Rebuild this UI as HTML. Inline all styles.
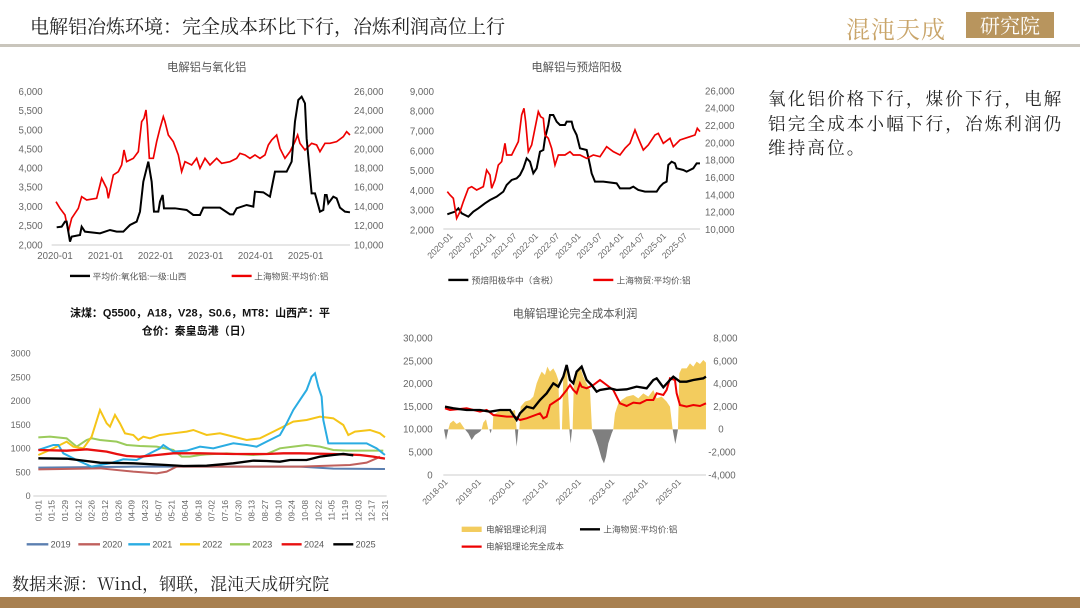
<!DOCTYPE html>
<html><head><meta charset="utf-8"><style>
body{margin:0;width:1080px;height:608px;background:#fff;overflow:hidden;position:relative;font-family:"Liberation Sans","Noto Sans CJK SC",sans-serif}
.t{position:absolute;left:30px;top:12px;font-size:19px;color:#222;font-family:"Noto Serif CJK SC","Noto Sans CJK SC",serif}
.side{position:absolute;left:768px;top:87px;width:306px;font-size:17.5px;letter-spacing:2.2px;line-height:24.5px;color:#222;font-family:"Noto Serif CJK SC","Noto Sans CJK SC",serif}
.src{position:absolute;left:12px;top:570px;font-size:17px;color:#222;font-family:"Noto Serif CJK SC","Noto Sans CJK SC",serif}
</style></head><body>
<div class="t">电解铝冶炼环境：完全成本环比下行，冶炼利润高位上行</div>
<div style="position:absolute;left:0;top:44px;width:1080px;height:3px;background:#c9c5bc"></div>
<div style="position:absolute;left:846px;top:10px;font-size:24px;color:#c9a56a;letter-spacing:1px;font-family:'Noto Serif CJK SC',serif">混沌天成</div>
<div style="position:absolute;left:966px;top:12px;width:88px;height:26px;background:#b8955e;color:#fff;font-size:20px;line-height:26px;text-align:center;font-family:'Noto Serif CJK SC',serif">研究院</div>
<div class="side">氧化铝价格下行，煤价下行，电解铝完全成本小幅下行，冶炼利润仍维持高位。</div>
<div class="src">数据来源：Wind，钢联，混沌天成研究院</div>
<div style="position:absolute;left:0;top:597px;width:1080px;height:11px;background:#a88050"></div>

<svg width="1080" height="608" style="position:absolute;left:0;top:0" font-family="Liberation Sans,Noto Sans CJK SC,sans-serif">
<!-- Chart 1 -->
<g transform="translate(0,55) scale(0.3333)" fill="none">
<text x="620" y="48" font-size="34" fill="#555" text-anchor="middle" stroke="none">电解铝与氧化铝</text>
<g font-size="29" fill="#666" stroke="none" text-anchor="end">
<text x="128" y="120">6,000</text><text x="128" y="177">5,500</text><text x="128" y="235">5,000</text><text x="128" y="292">4,500</text><text x="128" y="350">4,000</text><text x="128" y="407">3,500</text><text x="128" y="465">3,000</text><text x="128" y="522">2,500</text><text x="128" y="580">2,000</text>
</g>
<g font-size="29" fill="#666" stroke="none">
<text x="1062" y="120">26,000</text><text x="1062" y="177">24,000</text><text x="1062" y="235">22,000</text><text x="1062" y="292">20,000</text><text x="1062" y="350">18,000</text><text x="1062" y="407">16,000</text><text x="1062" y="465">14,000</text><text x="1062" y="522">12,000</text><text x="1062" y="580">10,000</text>
</g>
<line x1="155" y1="570" x2="1050" y2="570" stroke="#ccc" stroke-width="3"/>
<g font-size="29" fill="#666" stroke="none" text-anchor="middle">
<text x="165" y="612">2020-01</text><text x="317" y="612">2021-01</text><text x="467" y="612">2022-01</text><text x="617" y="612">2023-01</text><text x="767" y="612">2024-01</text><text x="917" y="612">2025-01</text>
</g>
<polyline stroke="#e00" stroke-width="5" points="168,440 180,460 195,480 205,530 215,490 235,460 245,425 260,435 290,430 305,370 320,400 325,430 340,360 355,350 365,330 372,285 380,320 400,310 415,290 425,200 432,190 438,165 442,210 448,310 460,310 470,260 480,220 490,185 495,200 505,240 520,260 535,300 545,350 555,320 575,330 590,310 600,340 615,310 630,330 650,310 665,325 690,320 710,310 720,295 735,300 750,310 765,300 780,310 795,300 805,270 815,255 830,240 840,280 855,310 870,290 885,260 893,240 900,265 915,285 925,275 935,265 950,270 960,290 975,265 990,265 1010,260 1030,245 1040,230 1050,240"/>
<polyline stroke="#000" stroke-width="6" points="170,517 185,515 195,500 200,500 210,560 215,545 240,540 245,515 255,530 300,535 330,525 350,530 370,530 390,510 410,500 420,470 430,380 445,320 455,380 462,470 475,470 480,440 488,420 492,460 525,460 560,465 580,480 600,480 610,458 660,458 690,478 700,478 710,460 740,450 760,455 765,410 790,412 810,425 825,350 860,350 875,320 885,200 895,135 905,125 915,145 920,250 930,360 935,415 945,415 960,470 970,465 975,420 980,420 985,445 1000,425 1010,430 1020,458 1035,470 1050,472"/>
<line x1="210" y1="663" x2="270" y2="663" stroke="#000" stroke-width="7"/>
<text x="278" y="673" font-size="26" fill="#555" stroke="none">平均价:氧化铝:一级:山西</text>
<line x1="695" y1="663" x2="755" y2="663" stroke="#e00" stroke-width="7"/>
<text x="763" y="673" font-size="26" fill="#555" stroke="none">上海物贸:平均价:铝</text>
</g>

<!-- Chart 2 -->
<g transform="translate(390,55) scale(0.3333)" fill="none">
<text x="560" y="48" font-size="34" fill="#555" text-anchor="middle" stroke="none">电解铝与预焙阳极</text>
<g font-size="29" fill="#666" stroke="none" text-anchor="end">
<text x="132" y="120">9,000</text><text x="132" y="179">8,000</text><text x="132" y="239">7,000</text><text x="132" y="298">6,000</text><text x="132" y="357">5,000</text><text x="132" y="417">4,000</text><text x="132" y="476">3,000</text><text x="132" y="535">2,000</text>
</g>
<g font-size="29" fill="#666" stroke="none">
<text x="945" y="118">26,000</text><text x="945" y="170">24,000</text><text x="945" y="222">22,000</text><text x="945" y="274">20,000</text><text x="945" y="326">18,000</text><text x="945" y="378">16,000</text><text x="945" y="430">14,000</text><text x="945" y="482">12,000</text><text x="945" y="534">10,000</text>
</g>
<line x1="160" y1="522" x2="930" y2="522" stroke="#ccc" stroke-width="3"/>
<g font-size="26" fill="#666" stroke="none" text-anchor="end">
<text transform="translate(190,545) rotate(-45)">2020-01</text><text transform="translate(254,545) rotate(-45)">2020-07</text><text transform="translate(318,545) rotate(-45)">2021-01</text><text transform="translate(382,545) rotate(-45)">2021-07</text><text transform="translate(446,545) rotate(-45)">2022-01</text><text transform="translate(510,545) rotate(-45)">2022-07</text><text transform="translate(574,545) rotate(-45)">2023-01</text><text transform="translate(638,545) rotate(-45)">2023-07</text><text transform="translate(702,545) rotate(-45)">2024-01</text><text transform="translate(766,545) rotate(-45)">2024-07</text><text transform="translate(830,545) rotate(-45)">2025-01</text><text transform="translate(894,545) rotate(-45)">2025-07</text>
</g>
<polyline stroke="#000" stroke-width="6" points="172,478 180,475 195,470 205,460 215,475 225,480 235,485 240,480 250,470 265,460 285,445 300,435 320,425 340,410 350,390 365,375 380,370 390,360 400,340 410,310 420,320 430,355 440,340 450,290 460,285 465,250 475,210 480,180 490,180 500,200 510,210 525,210 530,200 545,200 550,220 560,240 570,280 590,285 600,330 605,355 615,380 640,380 680,385 690,400 720,400 730,395 745,405 765,410 800,410 810,395 820,385 830,380 835,330 845,320 855,325 860,340 880,345 890,350 900,345 910,340 920,325 930,325"/>
<polyline stroke="#e00" stroke-width="5" points="172,410 180,420 190,430 200,490 210,470 220,440 235,400 245,395 260,405 280,395 290,345 300,360 305,400 315,375 325,330 335,320 345,265 350,300 365,300 385,260 395,180 402,160 407,200 415,290 425,270 435,220 445,170 452,185 460,190 465,240 475,250 485,280 495,330 505,300 525,300 540,290 550,300 570,300 590,310 610,300 630,305 650,275 670,290 690,300 705,280 720,265 735,225 745,250 760,285 775,270 795,240 805,235 820,265 840,250 850,275 870,255 900,245 915,240 922,220 930,230"/>
<line x1="175" y1="675" x2="235" y2="675" stroke="#000" stroke-width="7"/>
<text x="245" y="685" font-size="26" fill="#555" stroke="none">预焙阳极华中（含税）</text>
<line x1="610" y1="675" x2="670" y2="675" stroke="#e00" stroke-width="7"/>
<text x="680" y="685" font-size="26" fill="#555" stroke="none">上海物贸:平均价:铝</text>
</g>

<!-- Chart 3 -->
<g transform="translate(0,300) scale(0.3333)" fill="none">
<text x="600" y="50" font-size="33" font-weight="bold" fill="#111" text-anchor="middle" stroke="none">沫煤：Q5500，A18，V28，S0.6，MT8：山西产：平</text>
<text x="590" y="104" font-size="33" font-weight="bold" fill="#111" text-anchor="middle" stroke="none">仓价：秦皇岛港（日）</text>
<g font-size="27" fill="#666" stroke="none" text-anchor="end">
<text x="92" y="169">3000</text><text x="92" y="241">2500</text><text x="92" y="312">2000</text><text x="92" y="384">1500</text><text x="92" y="455">1000</text><text x="92" y="526">500</text><text x="92" y="597">0</text>
</g>
<line x1="100" y1="588" x2="1160" y2="588" stroke="#ccc" stroke-width="3"/>
<g font-size="25" fill="#666" stroke="none" text-anchor="end">
<text transform="translate(124,600) rotate(-90)">01-01</text><text transform="translate(164,600) rotate(-90)">01-15</text><text transform="translate(204,600) rotate(-90)">01-29</text><text transform="translate(244,600) rotate(-90)">02-12</text><text transform="translate(284,600) rotate(-90)">02-26</text><text transform="translate(324,600) rotate(-90)">03-12</text><text transform="translate(364,600) rotate(-90)">03-26</text><text transform="translate(404,600) rotate(-90)">04-09</text><text transform="translate(444,600) rotate(-90)">04-23</text><text transform="translate(484,600) rotate(-90)">05-07</text><text transform="translate(524,600) rotate(-90)">05-21</text><text transform="translate(564,600) rotate(-90)">06-04</text><text transform="translate(604,600) rotate(-90)">06-18</text><text transform="translate(644,600) rotate(-90)">07-02</text><text transform="translate(684,600) rotate(-90)">07-16</text><text transform="translate(724,600) rotate(-90)">07-30</text><text transform="translate(764,600) rotate(-90)">08-13</text><text transform="translate(804,600) rotate(-90)">08-27</text><text transform="translate(844,600) rotate(-90)">09-10</text><text transform="translate(884,600) rotate(-90)">09-24</text><text transform="translate(924,600) rotate(-90)">10-08</text><text transform="translate(964,600) rotate(-90)">10-22</text><text transform="translate(1004,600) rotate(-90)">11-05</text><text transform="translate(1044,600) rotate(-90)">11-19</text><text transform="translate(1084,600) rotate(-90)">12-03</text><text transform="translate(1124,600) rotate(-90)">12-17</text><text transform="translate(1164,600) rotate(-90)">12-31</text>
</g>
<polyline stroke="#5b7fb0" stroke-width="6" points="115,503 400,500 600,500 900,500 1000,506 1155,507"/>
<polyline stroke="#c0605d" stroke-width="6" points="115,508 300,505 400,515 470,520 500,515 530,500 600,500 900,500 1050,495 1100,488 1130,475 1140,470"/>
<polyline stroke="#9bcb5b" stroke-width="6" points="115,412 150,410 200,415 230,440 260,420 275,415 300,420 350,425 380,435 420,438 470,440 520,450 545,470 570,470 600,465 620,463 680,460 760,465 800,462 840,445 880,440 920,435 960,440 1000,450 1040,452 1100,452 1150,452"/>
<polyline stroke="#f5c518" stroke-width="6" points="115,465 150,450 200,425 220,440 250,445 275,410 300,330 320,370 330,380 345,345 360,370 375,400 400,405 415,420 430,410 450,415 480,405 520,400 560,395 580,390 620,405 660,400 700,410 740,420 780,415 830,390 880,365 920,360 960,350 1000,355 1030,375 1045,405 1065,395 1110,390 1140,400 1155,412"/>
<polyline stroke="#2aace2" stroke-width="6" points="115,450 160,435 175,435 190,460 230,480 275,500 330,490 370,478 410,480 440,465 480,445 490,435 520,455 560,452 600,440 640,445 700,430 740,435 770,440 800,425 840,405 860,370 880,330 900,300 920,270 935,230 945,220 955,260 965,290 970,360 985,430 1100,430 1130,445 1155,465"/>
<polyline stroke="#e81010" stroke-width="7" points="115,450 200,452 260,448 320,455 350,462 380,468 420,470 470,465 520,460 600,460 700,462 800,462 850,460 900,460 1000,462 1080,465 1120,470 1155,476"/>
<polyline stroke="#000" stroke-width="7" points="115,475 200,476 250,482 300,488 400,490 500,495 550,498 620,497 700,490 760,482 800,483 840,485 870,480 920,480 960,470 1000,465 1030,462 1060,466"/>
<g stroke-width="7">
<line x1="80" y1="733" x2="145" y2="733" stroke="#5b7fb0"/><line x1="235" y1="733" x2="300" y2="733" stroke="#c0605d"/><line x1="385" y1="733" x2="450" y2="733" stroke="#2aace2"/><line x1="540" y1="733" x2="600" y2="733" stroke="#f5c518"/><line x1="690" y1="733" x2="750" y2="733" stroke="#9bcb5b"/><line x1="845" y1="733" x2="905" y2="733" stroke="#e81010"/><line x1="1000" y1="733" x2="1060" y2="733" stroke="#000"/>
</g>
<g font-size="27" fill="#555" stroke="none">
<text x="152" y="743">2019</text><text x="307" y="743">2020</text><text x="457" y="743">2021</text><text x="607" y="743">2022</text><text x="757" y="743">2023</text><text x="912" y="743">2024</text><text x="1067" y="743">2025</text>
</g>
</g>

<!-- Chart 4 -->
<g transform="translate(400,300) scale(0.3333)" fill="none">
<text x="525" y="52" font-size="34" fill="#555" text-anchor="middle" stroke="none">电解铝理论完全成本利润</text>
<g font-size="29" fill="#666" stroke="none" text-anchor="end">
<text x="98" y="125">30,000</text><text x="98" y="193">25,000</text><text x="98" y="261">20,000</text><text x="98" y="330">15,000</text><text x="98" y="398">10,000</text><text x="98" y="466">5,000</text><text x="98" y="535">0</text>
</g>
<g font-size="29" fill="#666" stroke="none">
<text x="940" y="125">8,000</text><text x="940" y="193">6,000</text><text x="940" y="261">4,000</text><text x="940" y="330">2,000</text><text x="955" y="398">0</text><text x="925" y="466">-2,000</text><text x="925" y="535">-4,000</text>
</g>
<line x1="130" y1="525" x2="918" y2="525" stroke="#ccc" stroke-width="3"/>
<g font-size="26" fill="#666" stroke="none" text-anchor="end">
<text transform="translate(145,548) rotate(-45)">2018-01</text><text transform="translate(245,548) rotate(-45)">2019-01</text><text transform="translate(345,548) rotate(-45)">2020-01</text><text transform="translate(445,548) rotate(-45)">2021-01</text><text transform="translate(545,548) rotate(-45)">2022-01</text><text transform="translate(645,548) rotate(-45)">2023-01</text><text transform="translate(745,548) rotate(-45)">2024-01</text><text transform="translate(845,548) rotate(-45)">2025-01</text>
</g>
<polygon fill="#f3cc5e" points="145,388 150,370 160,362 170,372 180,366 195,388 245,388 250,368 258,358 265,388 278,388 280,345 295,335 310,330 330,335 345,330 350,388 358,388 362,320 375,305 390,300 400,290 410,250 418,230 425,215 435,225 442,200 450,215 460,205 468,220 475,240 480,388 486,388 490,220 500,195 510,388 518,388 522,230 530,215 540,200 550,230 560,250 570,270 576,388 640,388 645,340 655,310 665,300 680,290 700,285 715,295 730,280 745,290 760,270 770,295 785,290 800,305 810,320 818,388 834,388 838,220 845,205 860,205 870,190 880,200 890,185 900,192 910,180 918,188 918,388"/>
<polygon fill="#7f7f7f" points="132,388 138,420 145,388 195,388 205,400 215,420 225,405 240,395 245,388 268,388 272,400 275,388 345,388 350,440 355,388 508,388 512,430 516,388 576,388 585,410 595,440 605,475 612,490 618,470 625,430 635,400 640,388 818,388 822,410 826,432 832,400 834,388"/>
<polyline stroke="#e00" stroke-width="6" points="135,325 150,330 200,325 240,335 260,330 280,345 320,350 345,350 360,360 380,355 420,340 430,355 440,350 450,315 480,295 500,270 510,255 520,270 530,280 540,250 545,260 560,265 580,255 600,240 620,255 640,270 660,310 680,318 700,308 720,310 740,300 760,300 770,280 790,285 800,270 810,235 825,240 830,280 840,315 860,320 880,315 900,318 918,310"/>
<polyline stroke="#000" stroke-width="7" points="135,320 160,325 200,330 240,330 270,335 300,330 330,330 350,360 360,340 380,320 400,325 420,300 440,280 460,250 475,260 490,230 500,195 510,240 520,250 530,215 545,200 560,240 575,255 590,275 600,270 630,265 650,270 680,268 710,260 740,265 760,240 770,235 790,262 810,240 820,230 840,245 860,245 880,240 910,235 918,230"/>
<rect x="185" y="680" width="60" height="16" fill="#f3cc5e" stroke="none"/>
<text x="258" y="697" font-size="26" fill="#555" stroke="none">电解铝理论利润</text>
<line x1="540" y1="688" x2="600" y2="688" stroke="#000" stroke-width="7"/>
<text x="610" y="697" font-size="26" fill="#555" stroke="none">上海物贸:平均价:铝</text>
<line x1="185" y1="740" x2="245" y2="740" stroke="#e00" stroke-width="7"/>
<text x="258" y="749" font-size="26" fill="#555" stroke="none">电解铝理论完全成本</text>
</g>
</svg>
</body></html>
